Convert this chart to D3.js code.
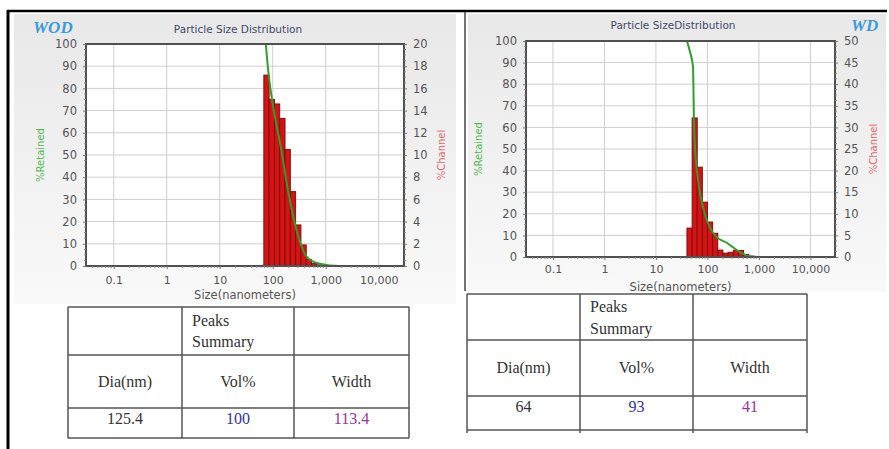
<!DOCTYPE html>
<html><head><meta charset="utf-8">
<script src="https://cdn.jsdelivr.net/npm/d3@7/dist/d3.min.js"></script>
<style>body{margin:0;background:#fff}svg{display:block}</style>
</head><body><svg id="c" width="889" height="449"></svg>
<script>
// ---------- data ----------
const xTicks = [0.1, 1, 10, 100, 1000, 10000];
const xDomain = [0.03, 30000];
const retainedTicks = [0, 10, 20, 30, 40, 50, 60, 70, 80, 90, 100];

// WOD sample
const leftBinSizes = [68, 85.6, 107.8, 135.7, 170.8, 215, 270.7, 340.8, 429, 540, 680, 856];
const leftChannel  = [17.2, 15.0, 14.6, 13.3, 10.5, 6.7, 3.7, 1.9, 0.6, 0.25, 0.1, 0.05];
const leftRetSizes = [74, 84, 100, 141, 198, 290, 445, 773, 1810, 30000];
const leftRetained = [100, 86, 73, 54, 33, 15, 4, 1, 0, 0];
const leftChannelTicks = [0, 2, 4, 6, 8, 10, 12, 14, 16, 18, 20];

// WD sample
const rightBinSizes = [40, 50.4, 63.4, 79.8, 100.5, 126.5, 159, 200, 252, 318, 400, 504, 634];
const rightChannel  = [6.7, 32.2, 20.8, 12.7, 8.1, 5.5, 1.6, 0.9, 1.1, 1.5, 1.5, 0.6, 0.2];
const rightRetSizes = [40.1, 45.8, 52.5, 54.8, 57.3, 65.4, 78.2, 97.6, 139.6, 240, 427, 661, 1040, 30000];
const rightRetained = [100, 95, 88, 62, 51, 36, 25, 17, 10, 6.5, 2.3, 0.3, 0, 0];
const rightChannelTicks = [0, 5, 10, 15, 20, 25, 30, 35, 40, 45, 50];

// Peaks summary tables
const tableTitle = ["Peaks", "Summary"];
const tableColumns = ["Dia(nm)", "Vol%", "Width"];
const leftPeak = ["125.4", "100", "113.4"];
const rightPeak = ["64", "93", "41"];
const peakColors = ["#333333", "#33339a", "#993399"];

// ---------- drawing ----------
const svg = d3.select("#c");
const defs = svg.append("defs");
const grad = defs.append("linearGradient").attr("id", "bg").attr("x1", 0).attr("y1", 0).attr("x2", 0).attr("y2", 1);
grad.append("stop").attr("offset", "0%").attr("stop-color", "#e8e8e8");
grad.append("stop").attr("offset", "100%").attr("stop-color", "#f9f9f9");

const FONT = "'DejaVu Sans', Verdana, sans-serif";

function drawChart(o) {
  const g = svg.append("g");
  g.append("rect").attr("x", o.panel[0]).attr("y", o.panel[1]).attr("width", o.panel[2]).attr("height", o.panel[3])
    .attr("fill", "url(#bg)");
  const [x0, y0, x1, y1] = o.plot;
  const x = d3.scaleLog().domain(xDomain).range([x0, x1]);
  const yL = d3.scaleLinear().domain([0, 100]).range([y1, y0]);
  const yR = d3.scaleLinear().domain([0, o.channelTicks[o.channelTicks.length - 1]]).range([y1, y0]);

  g.append("rect").attr("x", x0).attr("y", y0).attr("width", x1 - x0).attr("height", y1 - y0).attr("fill", "#fff");

  // grid
  g.append("g").selectAll("line").data(retainedTicks).join("line")
    .attr("x1", x0).attr("x2", x1).attr("y1", d => yL(d)).attr("y2", d => yL(d))
    .attr("stroke", "#cfcfcf").attr("stroke-width", 1);
  g.append("g").selectAll("line").data(xTicks).join("line")
    .attr("x1", d => x(d)).attr("x2", d => x(d)).attr("y1", y0).attr("y2", y1)
    .attr("stroke", "#cfcfcf").attr("stroke-width", 1);

  // bars
  const bs = o.binSizes;
  g.append("g").selectAll("rect").data(o.channel).join("rect")
    .attr("x", (d, i) => x(bs[i]))
    .attr("width", (d, i) => {
      const a = x(bs[i]);
      const b = i < bs.length - 1 ? x(bs[i + 1]) : a + (a - x(bs[i - 1]));
      return Math.max(0.5, b - a);
    })
    .attr("y", d => yR(d)).attr("height", d => y1 - yR(d))
    .attr("fill", "#d41414").attr("stroke", "#7a0a0a").attr("stroke-width", 0.9);

  // retained line
  const pts = o.retSizes.map((s, i) => [x(s), yL(o.retained[i])]);
  g.append("path").attr("d", d3.line().curve(d3.curveMonotoneX)(pts))
    .attr("fill", "none").attr("stroke", "#2f9e2f").attr("stroke-width", 2);

  // frame
  g.append("rect").attr("x", x0).attr("y", y0).attr("width", x1 - x0).attr("height", y1 - y0)
    .attr("fill", "none").attr("stroke", "#505050").attr("stroke-width", 2);

  // axes
  const styleAxis = (ax) => {
    ax.select(".domain").remove();
    ax.selectAll(".tick line").attr("stroke", "#777");
    ax.selectAll("text").attr("fill", "#555").style("font-family", FONT);
  };
  const aL = g.append("g").attr("transform", `translate(${x0},0)`)
    .call(d3.axisLeft(yL).tickValues(retainedTicks).tickSize(3).tickPadding(6));
  styleAxis(aL); aL.selectAll("text").style("font-size", "11.5px");
  const aR = g.append("g").attr("transform", `translate(${x1},0)`)
    .call(d3.axisRight(yR).tickValues(o.channelTicks).tickSize(3).tickPadding(6));
  styleAxis(aR); aR.selectAll("text").style("font-size", "11.5px");
  const aB = g.append("g").attr("transform", `translate(0,${y1})`)
    .call(d3.axisBottom(x).tickValues(xTicks).tickFormat(d3.format(",")).tickSize(3).tickPadding(o.xPad));
  styleAxis(aB); aB.selectAll("text").style("font-size", "11px");

  // minor ticks
  const minorY = d3.range(0, 100.01, 2.5).filter(v => v % 10 !== 0);
  g.append("g").selectAll("line").data(minorY).join("line")
    .attr("x1", x0 - 2).attr("x2", x0).attr("y1", d => yL(d)).attr("y2", d => yL(d)).attr("stroke", "#888");
  g.append("g").selectAll("line").data(minorY).join("line")
    .attr("x1", x1).attr("x2", x1 + 2).attr("y1", d => yL(d)).attr("y2", d => yL(d)).attr("stroke", "#888");
  const minorX = [];
  xTicks.concat([0.01]).forEach(t => { for (let k = 2; k < 10; k++) { const v = t * k; if (v > xDomain[0] && v < xDomain[1]) minorX.push(v); } });
  g.append("g").selectAll("line").data(minorX).join("line")
    .attr("x1", d => x(d)).attr("x2", d => x(d)).attr("y1", y1).attr("y2", y1 + 2).attr("stroke", "#888");

  // labels
  g.append("text").attr("x", o.titleX).attr("y", o.titleY).attr("text-anchor", "middle")
    .style("font-family", FONT).style("font-size", "10.5px").attr("fill", "#3d4a6b").text(o.title);
  g.append("text").attr("x", o.tagX).attr("y", o.tagY)
    .style("font-family", "'Liberation Serif', 'Times New Roman', serif").style("font-size", "17px")
    .style("font-weight", "bold").style("font-style", "italic").attr("fill", "#3a9bd8").text(o.tag);
  g.append("text").attr("transform", `translate(${o.retLabelX},${o.labelY}) rotate(-90)`).attr("text-anchor", "middle")
    .style("font-family", FONT).style("font-size", "10px").attr("fill", "#4fb84f").text("%Retained");
  g.append("text").attr("transform", `translate(${o.chanLabelX},${o.labelY}) rotate(-90)`).attr("text-anchor", "middle")
    .style("font-family", FONT).style("font-size", "10px").attr("fill", "#e06a6a").text("%Channel");
  g.append("text").attr("x", (x0 + x1) / 2).attr("y", o.xLabelY).attr("text-anchor", "middle")
    .style("font-family", FONT).style("font-size", "11.5px").attr("fill", "#555").text("Size(nanometers)");
}

drawChart({
  panel: [14, 14, 442, 290], plot: [86, 44, 404, 266],
  channelTicks: leftChannelTicks, xPad: 7,
  title: "Particle Size Distribution", titleX: 238, titleY: 33,
  tag: "WOD", tagX: 33, tagY: 33,
  retLabelX: 44, chanLabelX: 445, labelY: 155, xLabelY: 299,
  binSizes: leftBinSizes, channel: leftChannel, retSizes: leftRetSizes, retained: leftRetained
});
drawChart({
  panel: [468, 14, 418, 278], plot: [526, 41, 835, 257],
  channelTicks: rightChannelTicks, xPad: 5,
  title: "Particle SizeDistribution", titleX: 673, titleY: 29,
  tag: "WD", tagX: 851, tagY: 31,
  retLabelX: 482, chanLabelX: 877, labelY: 149, xLabelY: 291,
  binSizes: rightBinSizes, channel: rightChannel, retSizes: rightRetSizes, retained: rightRetained
});

// outer frame lines
svg.append("line").attr("x1", 7).attr("x2", 887).attr("y1", 11).attr("y2", 11).attr("stroke", "#000").attr("stroke-width", 2.5);
svg.append("line").attr("x1", 8).attr("x2", 8).attr("y1", 10).attr("y2", 449).attr("stroke", "#000").attr("stroke-width", 3);
svg.append("line").attr("x1", 465).attr("x2", 465).attr("y1", 12).attr("y2", 291).attr("stroke", "#444").attr("stroke-width", 1.5);

// tables
function drawTable(o) {
  const g = svg.append("g");
  const [c0, c1, c2, c3] = o.cols, [r0, r1, r2, r3] = o.rows;
  const ln = (a, b, c, d) => g.append("line").attr("x1", a).attr("y1", b).attr("x2", c).attr("y2", d)
    .attr("stroke", "#555").attr("stroke-width", 1.5);
  o.rows.forEach(r => ln(c0, r, c3, r));
  o.cols.forEach(c => ln(c, r0, c, r3 + o.ext));
  const serif = "'Liberation Serif', 'Times New Roman', serif";
  const txt = (tx, ty, s, anchor, col) => g.append("text").attr("x", tx).attr("y", ty).attr("text-anchor", anchor)
    .style("font-family", serif).style("font-size", "16px").attr("fill", col).text(s);
  txt(c1 + 10, o.titleY[0], tableTitle[0], "start", "#333");
  txt(c1 + 10, o.titleY[1], tableTitle[1], "start", "#333");
  const centers = [(c0 + c1) / 2, (c1 + c2) / 2, (c2 + c3) / 2];
  tableColumns.forEach((s, i) => txt(centers[i], o.headY, s, "middle", "#333"));
  o.values.forEach((s, i) => txt(centers[i], o.valY, s, "middle", peakColors[i]));
}
drawTable({ cols: [68, 182, 294, 409], rows: [307, 355, 408, 438], ext: 0,
  titleY: [326, 347], headY: 387, valY: 424, values: leftPeak });
drawTable({ cols: [467, 580, 693, 807], rows: [294, 340, 396, 430], ext: 3,
  titleY: [312, 334], headY: 373, valY: 412, values: rightPeak });
</script></body></html>
